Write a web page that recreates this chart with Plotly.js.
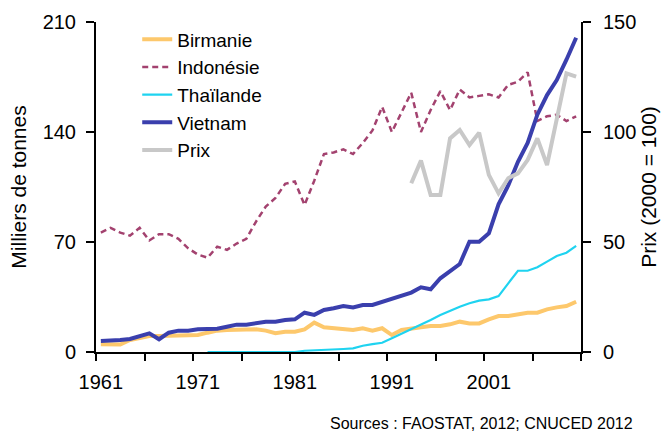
<!DOCTYPE html>
<html>
<head>
<meta charset="utf-8">
<script src="https://cdn.plot.ly/plotly-3.0.1.min.js"></script>
<style>html,body{margin:0;padding:0;background:#fff;}#chart{width:661px;height:432px;}</style>
</head>
<body>
<div id="chart"></div>
<script>
const years = [1961,1962,1963,1964,1965,1966,1967,1968,1969,1970,
               1971,1972,1973,1974,1975,1976,1977,1978,1979,1980,
               1981,1982,1983,1984,1985,1986,1987,1988,1989,1990,
               1991,1992,1993,1994,1995,1996,1997,1998,1999,2000,
               2001,2002,2003,2004,2005,2006,2007,2008,2009,2010];

const birmanie = [4.9,4.7,4.7,7.6,9.1,10.2,10.2,10.2,10.2,10.2,
                  10.8,12.3,13.6,14,14,14,14.4,13.6,11.9,12.9,
                  12.9,14.4,18.7,15.7,15.1,15.1,14,15.1,13.6,15.1,
                  10.8,14,15.1,15.7,16.6,16.6,17.6,19.3,18.2,18.2,
                  20.8,22.9,22.9,24.2,25,25,27.1,28.4,29.3,32];

const indonesie = [76,79,76,74,79,71,75,75,72,66,
                   62,60,67,65,69,72,83,92.5,98,107,
                   108.5,93.5,109,126,127,129,126,133,141,156,
                   140,153,165,140,154,166,154,167,162,163,
                   164,162,170,172,178,147,150,151,147,150];

const thailande = [null,null,null,null,null,null,null,null,null,null,
                   null,0,0,0,0,0,0,0,0,0,
                   0,0.8,1,1.3,1.5,1.9,2.3,4,5,5.9,
                   8.7,11.5,14.4,17.2,20.4,23.5,26.3,28.8,31,32.7,
                   33.5,35.6,43.7,51.7,51.7,53.9,57.5,61.1,63.2,67.5];

const vietnam = [7,7,7.6,8.3,10.2,11.9,8.1,12.3,13.6,13.6,
                 14.4,14.8,14.8,16.1,17.4,17.4,18.2,19.3,19.3,20.4,
                 20.8,25,23.6,26.7,27.8,29.3,28.4,29.9,29.9,32,
                 33.5,35.6,37.8,41.2,39.9,46.9,51.1,56,70.2,70.2,
                 75.5,94,106,121,133,151,163.5,173,186,200];

const prix = [null,null,null,null,null,null,null,null,null,null,
              null,null,null,null,null,null,null,null,null,null,
              null,null,null,null,null,null,null,null,null,null,
              null,null,76.7,87,71.4,71.4,97.1,100.9,94.1,99.7,
              80.5,72.1,79,81.2,87.3,97.1,85,106.2,126.7,125.2];

const leftTicks = [0,70,140,210];
const rightTicks = [0,50,100,150];
const xLabels = [1961,1971,1981,1991,2001];
const xMinorTicks = [1960.5,1965.5,1970.5,1975.5,1980.5,1985.5,1990.5,1995.5,2000.5,2005.5,2010.5];

const FONT = 'Liberation Sans, Arial, sans-serif';

const traces = [
  {x: years, y: birmanie, name: 'Birmanie', mode: 'lines', line: {color: '#FDC86C', width: 4}, legendgroup: 'a'},
  {x: years, y: indonesie, name: 'Indonésie', mode: 'lines', line: {color: '#A3426F', width: 2.5, dash: '6px,4px'}, legendgroup: 'b'},
  {x: years, y: thailande, name: 'Thaïlande', mode: 'lines', line: {color: '#1FD3F0', width: 2.2}, legendgroup: 'c'},
  {x: years, y: vietnam, name: 'Vietnam', mode: 'lines', line: {color: '#3A3FAD', width: 4}, legendgroup: 'd'},
  {x: years, y: prix, name: 'Prix', mode: 'lines', yaxis: 'y2', line: {color: '#C8C8C8', width: 4}, legendgroup: 'e'}
];

const layout = {
  width: 661, height: 432,
  margin: {l: 96, r: 80, t: 22, b: 80},
  paper_bgcolor: '#fff', plot_bgcolor: '#fff',
  font: {family: FONT, size: 20, color: '#000'},
  showlegend: true,
  legend: {x: 0.085, y: 1.005, xanchor: 'left', yanchor: 'top', bgcolor: 'rgba(0,0,0,0)',
           font: {family: FONT, size: 19, color: '#000'}, traceorder: 'grouped', tracegroupgap: 0},
  xaxis: {
    range: [1960.5, 2010.5], tickmode: 'array', tickvals: xLabels, ticktext: xLabels.map(String),
    ticks: '', showgrid: false, zeroline: false, showline: true, linecolor: '#000', linewidth: 2,
    ticklabelstandoff: 11, tickfont: {family: FONT, size: 20, color: '#000'},
    minor: {tickmode: 'array', tickvals: xMinorTicks, ticks: 'outside', ticklen: 7, tickwidth: 2, tickcolor: '#000', showgrid: false}
  },
  yaxis: {
    range: [0, 210], tickmode: 'array', tickvals: leftTicks, ticks: 'outside', ticklen: 8, tickwidth: 2, tickcolor: '#000',
    showgrid: false, zeroline: false, showline: true, linecolor: '#000', linewidth: 2,
    tickfont: {family: FONT, size: 20, color: '#000'}, ticklabelstandoff: 6,
    title: {text: 'Milliers de tonnes', font: {family: FONT, size: 21, color: '#000'}, standoff: 10}
  },
  yaxis2: {
    range: [0, 150], tickmode: 'array', tickvals: rightTicks, overlaying: 'y', side: 'right',
    ticks: 'outside', ticklen: 8, tickwidth: 2, tickcolor: '#000',
    showgrid: false, zeroline: false, showline: true, linecolor: '#000', linewidth: 2,
    tickfont: {family: FONT, size: 20, color: '#000'}, ticklabelstandoff: 8,
    title: {text: 'Prix (2000 = 100)', font: {family: FONT, size: 21, color: '#000'}, standoff: 6}
  },
  annotations: [{
    text: 'Sources : FAOSTAT, 2012; CNUCED 2012', xref: 'paper', yref: 'paper',
    x: 0.478, y: -0.185, xanchor: 'left', yanchor: 'top', showarrow: false,
    font: {family: FONT, size: 16, color: '#000'}
  }]
};

Plotly.newPlot('chart', traces, layout, {displayModeBar: false, staticPlot: true});
</script>
</body>
</html>
